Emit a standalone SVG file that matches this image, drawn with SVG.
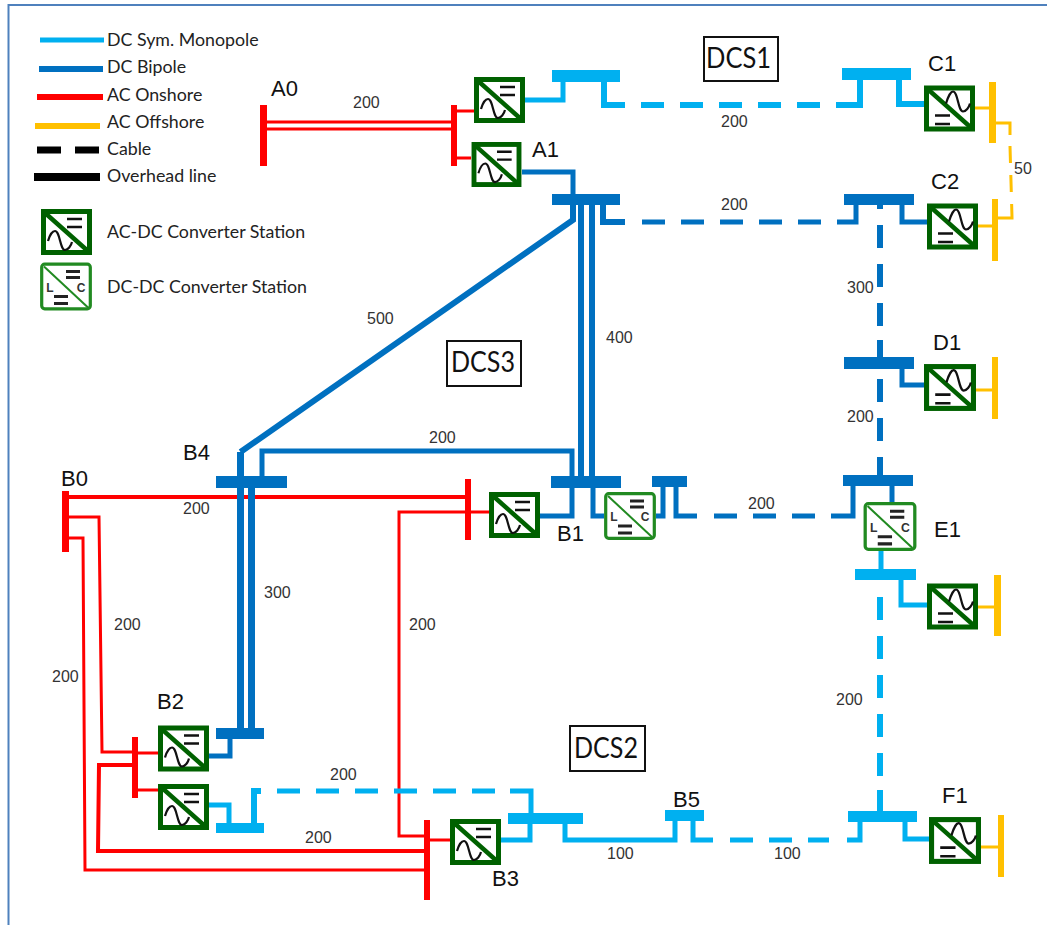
<svg xmlns="http://www.w3.org/2000/svg" xmlns:xlink="http://www.w3.org/1999/xlink" width="1047" height="925" viewBox="0 0 1047 925">
<style>
.c{fill:none;stroke-linejoin:miter}
.lb{stroke:#00b0f0}.db{stroke:#0070c0}.r{stroke:#ff0000}.y{stroke:#ffc000}
.w7{stroke-width:7}.w6{stroke-width:6}.w5{stroke-width:5}.w3{stroke-width:3}.w4{stroke-width:4}
.d{stroke-dasharray:23 16}
.blb{fill:#00b0f0}.bdb{fill:#0070c0}.br{fill:#ff0000}.by{fill:#ffc000}
.leg{font-family:Lato,"Open Sans",sans-serif;font-size:17.8px;fill:#222}
.n{font-family:"Liberation Sans",Arial,sans-serif;font-size:22px;fill:#111}
.v{font-family:"Liberation Sans",Arial,sans-serif;font-size:16px;fill:#333}
.t{font-family:Lato,"Liberation Sans",sans-serif;font-size:28px;fill:#111}
.lc{font-family:"Liberation Sans",Arial,sans-serif;font-size:12px;font-weight:bold;fill:#333;text-anchor:middle}
.box{fill:#fff;stroke:#111;stroke-width:2}
</style>
<defs>
<symbol id="acdc" viewBox="0 0 51 46">
<rect x="2.5" y="2.5" width="46" height="41" fill="#fff" stroke="#006100" stroke-width="5"/>
<path d="M3 3L48 43" stroke="#006100" stroke-width="4.5" fill="none"/>
<path d="M26 10H41M26 18H41" stroke="#111" stroke-width="2.5" fill="none"/>
<path d="M7 32C9 25 12 22 14 22C19 22 19 41 24 41C27 41 30 37 31 33" stroke="#111" stroke-width="2.2" fill="none"/>
</symbol>
<symbol id="acdcf" viewBox="0 0 51 46">
<rect x="2.5" y="2.5" width="46" height="41" fill="#fff" stroke="#006100" stroke-width="5"/>
<path d="M3 3L48 43" stroke="#006100" stroke-width="4.5" fill="none"/>
<path d="M11 30H26M11 38.500H26" stroke="#111" stroke-width="2.5" fill="none"/>
<path d="M22 18C24 11 27 6 29 6C34 6 34 26 39 26C42 26 45 22 46 18" stroke="#111" stroke-width="2.2" fill="none"/>
</symbol>
<symbol id="dcdc" viewBox="0 0 52 48">
<rect x="1.700" y="1.700" width="48.600" height="44.600" rx="3" fill="#fff" stroke="#218a21" stroke-width="3.200"/>
<path d="M4 4L48 45" stroke="#218a21" stroke-width="2" fill="none"/>
<path d="M26 9H40M26 15H40M14 34H28M14 41H28" stroke="#222" stroke-width="3" fill="none"/>
<text class="lc" x="10" y="29">L</text>
<text class="lc" x="41" y="29">C</text>
</symbol>
</defs>
<rect width="1047" height="925" fill="#fff"/>
<path d="M8.500 925V5H1047" fill="none" stroke="#4f81bd" stroke-width="2"/>

<g id="legend">
<path d="M40 40H104" stroke="#00b0f0" stroke-width="5"/>
<path d="M39 69H103" stroke="#0070c0" stroke-width="6"/>
<path d="M37 97H103" stroke="#ff0000" stroke-width="6"/>
<path d="M35 126H100" stroke="#ffc000" stroke-width="6"/>
<path d="M37 150H61M75 150H99" stroke="#000" stroke-width="7"/>
<path d="M34 177H100" stroke="#000" stroke-width="8"/>
<text class="leg" x="107" y="46">DC Sym. Monopole</text>
<text class="leg" x="107" y="73">DC Bipole</text>
<text class="leg" x="107" y="101">AC Onshore</text>
<text class="leg" x="107" y="128">AC Offshore</text>
<text class="leg" x="107" y="155">Cable</text>
<text class="leg" x="107" y="182">Overhead line</text>
<use xlink:href="#acdc" href="#acdc" x="41" y="209" width="51" height="46"/>
<use xlink:href="#dcdc" href="#dcdc" x="40" y="262" width="52" height="49"/>
<text class="leg" x="107" y="238">AC-DC Converter Station</text>
<text class="leg" x="107" y="293">DC-DC Converter Station</text>
</g>

<g id="connectors" class="c">
<path class="r w3" d="M267 122H451M267 129H451"/>
<path class="r w3" d="M457 111H474M457 158H471"/>
<path class="r w4" d="M69 497H465"/>
<path class="r w3" d="M471 512H489M465 512H399V836H424"/>
<path class="r w3" d="M69 517H99L102 752H132"/>
<path class="r w3" d="M69 538H83L85 870H424"/>
<path class="r w4" d="M132 765H99L98 851H424"/>
<path class="r w3" d="M138 753H158M138 790H158M430 840H450"/>
<path class="y w3" d="M975 108H989M978 226H992M976 390H992M978 607H994M981 847H998"/>
<path class="y w3" d="M996 123H1010V135"/>
<path class="y w3" d="M1010 146L1012 217" stroke-dasharray="17 12"/>
<path class="y w3" d="M1012 217V218H998"/>
<path class="lb w5" d="M525 100H563V82"/>
<path class="lb w6" d="M604 82V105H625"/>
<path class="lb w6 d" d="M641 105H840"/>
<path class="lb w6" d="M838 105H860V80M899 80V104H924"/>
<path class="lb w5" d="M881 551V569"/>
<path class="lb w5" d="M901 580V605H927"/>
<path class="lb w6 d" d="M880 597V790"/>
<path class="lb w6" d="M880 790V811"/>
<path class="lb w5" d="M209 805H229V823"/>
<path class="lb w6" d="M254 823V791H261"/>
<path class="lb w5 d" d="M277 791H510"/>
<path class="lb w5" d="M510 791H531V824"/>
<path class="lb w5" d="M501 840H530V824M565 824V840H675V821"/>
<path class="lb w5" d="M693 821V840H713"/>
<path class="lb w5 d" d="M730 840H829"/>
<path class="lb w5" d="M847 840H860V822M905 822V839H929"/>
<path class="db w5" d="M522 172H573V194"/>
<path class="db w6" d="M603 205V222H625"/>
<path class="db w5 d" d="M642 222H836"/>
<path class="db w5" d="M837 222H856V205M902 205V222H927"/>
<path class="db w6" d="M880 205V209M880 340V357M880 457V475"/>
<path class="db w6 d" d="M880 225V357M880 379V456"/>
<path class="db w5" d="M902 369V385H924"/>
<path class="db w6" d="M581 205V476M592 205V476"/>
<path class="db w6" d="M573 205V220L240.500 452"/>
<path class="db w7" d="M240.500 452V728M251.500 476V728"/>
<path class="db w5" d="M262 476V451H572V516H540"/>
<path class="db w5" d="M593 488V516H604"/>
<path class="db w5" d="M656 516H663V487M676 487V516H697"/>
<path class="db w5 d" d="M714 516H830"/>
<path class="db w5" d="M831 516H853V486M892 486V502"/>
<path class="db w5" d="M209 756H230V739"/>
</g>

<g id="bus-A0"><rect class="br" x="260" y="105" width="7" height="61"/><text class="n" x="271" y="96">A0</text></g>
<g id="bus-A1-ac"><rect class="br" x="451" y="105" width="6" height="61"/></g>
<g id="bus-B0"><rect class="br" x="62" y="491" width="7" height="61"/><text class="n" x="61" y="486">B0</text></g>
<g id="bus-B1-ac"><rect class="br" x="465" y="479" width="6" height="61"/></g>
<g id="bus-B2-ac"><rect class="br" x="132" y="737" width="6" height="61"/></g>
<g id="bus-B3-ac"><rect class="br" x="424" y="820" width="6" height="80"/></g>

<g id="bus-C1-ac"><rect class="by" x="989" y="82" width="7" height="61"/></g>
<g id="bus-C2-ac"><rect class="by" x="992" y="199" width="6" height="62"/></g>
<g id="bus-D1-ac"><rect class="by" x="992" y="357" width="6" height="62"/></g>
<g id="bus-E1-ac"><rect class="by" x="994" y="575" width="7" height="61"/></g>
<g id="bus-F1-ac"><rect class="by" x="998" y="815" width="6" height="62"/></g>

<g id="bus-A0-dc"><rect class="blb" x="552" y="70" width="68" height="12"/></g>
<g id="bus-C1-dc"><rect class="blb" x="842" y="68" width="69" height="12"/></g>
<g id="bus-A1-dc"><rect class="bdb" x="552" y="194" width="68" height="11"/></g>
<g id="bus-C2-dc"><rect class="bdb" x="844" y="194" width="70" height="11"/></g>
<g id="bus-D1-dc"><rect class="bdb" x="844" y="357" width="70" height="12"/></g>
<g id="bus-E1-dc"><rect class="bdb" x="843" y="475" width="70" height="11"/></g>
<g id="bus-E1-sm"><rect class="blb" x="855" y="569" width="61" height="11"/></g>
<g id="bus-B1-dc"><rect class="bdb" x="551" y="476" width="70" height="12"/></g>
<g id="bus-B1-out"><rect class="bdb" x="652" y="476" width="35" height="11"/></g>
<g id="bus-B4"><rect class="bdb" x="216" y="476" width="71" height="12"/><text class="n" x="183" y="460">B4</text></g>
<g id="bus-B2-dc"><rect class="bdb" x="216" y="728" width="48" height="11"/></g>
<g id="bus-B2-sm"><rect class="blb" x="216" y="823" width="48" height="10"/></g>
<g id="bus-B3-dc"><rect class="blb" x="508" y="813" width="75" height="11"/></g>
<g id="bus-B5"><rect class="blb" x="665" y="810" width="39" height="11"/><text class="n" x="673" y="807">B5</text></g>
<g id="bus-F1-dc"><rect class="blb" x="848" y="811" width="69" height="11"/></g>

<g id="conv-A0"><use xlink:href="#acdc" href="#acdc" x="474" y="77" width="51" height="46"/></g>
<g id="conv-A1"><use xlink:href="#acdc" href="#acdc" x="471" y="142" width="51" height="45"/><text class="n" x="532" y="157">A1</text></g>
<g id="conv-C1"><use xlink:href="#acdcf" href="#acdcf" x="924" y="85" width="51" height="47"/><text class="n" x="928" y="71">C1</text></g>
<g id="conv-C2"><use xlink:href="#acdcf" href="#acdcf" x="927" y="203" width="51" height="47"/><text class="n" x="931" y="189">C2</text></g>
<g id="conv-D1"><use xlink:href="#acdcf" href="#acdcf" x="924" y="364" width="52" height="47"/><text class="n" x="933" y="350">D1</text></g>
<g id="conv-E1-ac"><use xlink:href="#acdcf" href="#acdcf" x="927" y="583" width="51" height="47"/></g>
<g id="conv-E1"><use xlink:href="#dcdc" href="#dcdc" x="863" y="502" width="54" height="49"/><text class="n" x="934" y="537">E1</text></g>
<g id="conv-B1"><use xlink:href="#acdc" href="#acdc" x="489" y="492" width="51" height="46"/><text class="n" x="557" y="541">B1</text></g>
<g id="conv-B1-dc"><use xlink:href="#dcdc" href="#dcdc" x="604" y="492" width="52" height="48"/></g>
<g id="conv-B2"><use xlink:href="#acdc" href="#acdc" x="158" y="725" width="51" height="47"/><text class="n" x="157" y="709">B2</text></g>
<g id="conv-B2-b"><use xlink:href="#acdc" href="#acdc" x="158" y="784" width="51" height="46"/></g>
<g id="conv-B3"><use xlink:href="#acdc" href="#acdc" x="450" y="818" width="51" height="48"/><text class="n" x="492" y="886">B3</text></g>
<g id="conv-F1"><use xlink:href="#acdcf" href="#acdcf" x="929" y="817" width="52" height="47"/><text class="n" x="942" y="803">F1</text></g>

<g id="area-DCS1"><rect class="box" x="704" y="37" width="74" height="44"/><text class="t" x="706" y="68" textLength="65" lengthAdjust="spacingAndGlyphs">DCS1</text></g>
<g id="area-DCS3"><rect class="box" x="447" y="341" width="74" height="45"/><text class="t" x="451" y="372" textLength="64" lengthAdjust="spacingAndGlyphs">DCS3</text></g>
<g id="area-DCS2"><rect class="box" x="570" y="726" width="75" height="45"/><text class="t" x="574" y="758" textLength="64" lengthAdjust="spacingAndGlyphs">DCS2</text></g>

<g id="values">
<text class="v" x="353" y="108">200</text>
<text class="v" x="721" y="127">200</text>
<text class="v" x="721" y="210">200</text>
<text class="v" x="1014" y="174">50</text>
<text class="v" x="847" y="293">300</text>
<text class="v" x="606" y="343">400</text>
<text class="v" x="367" y="324">500</text>
<text class="v" x="429" y="443">200</text>
<text class="v" x="183" y="514">200</text>
<text class="v" x="264" y="598">300</text>
<text class="v" x="114" y="630">200</text>
<text class="v" x="52" y="682">200</text>
<text class="v" x="409" y="630">200</text>
<text class="v" x="330" y="780">200</text>
<text class="v" x="305" y="843">200</text>
<text class="v" x="847" y="422">200</text>
<text class="v" x="748" y="509">200</text>
<text class="v" x="836" y="705">200</text>
<text class="v" x="607" y="859">100</text>
<text class="v" x="774" y="859">100</text>
</g>
</svg>
